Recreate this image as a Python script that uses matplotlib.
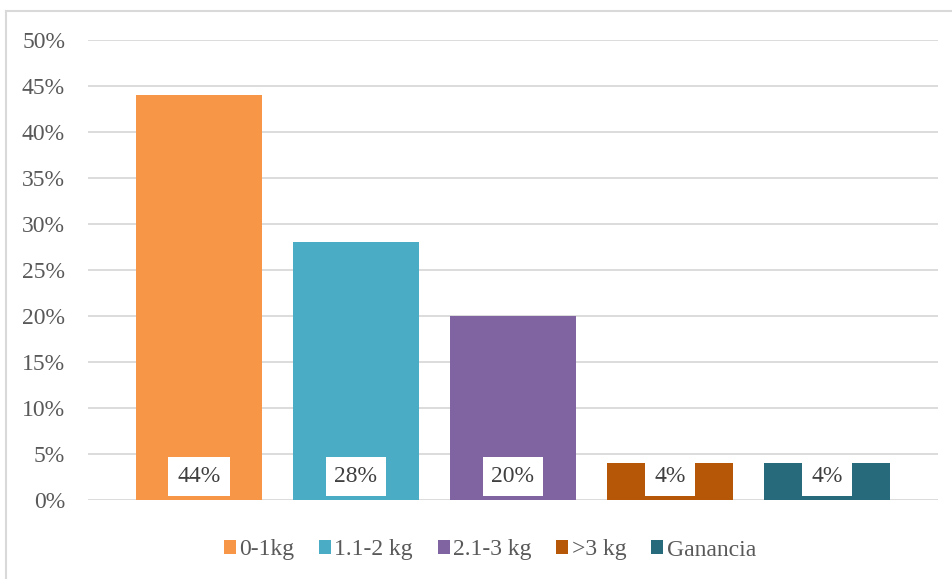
import matplotlib
matplotlib.use("Agg")
import matplotlib.pyplot as plt
from matplotlib.lines import Line2D
from matplotlib.patches import Patch

categories = ["0-1kg", "1.1-2 kg", "2.1-3 kg", ">3 kg", "Ganancia"]
values = [44, 28, 20, 4, 4]
labels = ["44%", "28%", "20%", "4%", "4%"]
colors = ["#F79646", "#4BACC6", "#8064A2", "#B65708", "#276A7C"]
yticks = [0, 5, 10, 15, 20, 25, 30, 35, 40, 45, 50]
ytick_labels = [f"{v}%" for v in yticks]

plt.rcParams['font.family'] = ['Liberation Serif', 'DejaVu Serif']

W, H = 953, 579
fig = plt.figure(figsize=(W / 100, H / 100), dpi=100)
# axes: x 88..938, y 40..500 px
ax = fig.add_axes([88 / W, 1 - 500 / H, (938 - 88) / W, (500 - 40) / H])

for i, (c, v, col) in enumerate(zip(categories, values, colors)):
    ax.bar(i, v, width=0.80, color=col, label=c, zorder=3)

ax.set_xlim(-0.707, 4.707)
ax.set_ylim(0, 50)
ax.set_yticks(yticks)
ax.set_yticklabels(ytick_labels, fontsize=17, color="#595959")
ax.set_xticks([])
ax.tick_params(axis='y', length=0, pad=16.5)
ax.grid(axis='y', color="#D9D9D9", linewidth=1.3, zorder=0)
for s in ax.spines.values():
    s.set_visible(False)

for i, (v, lab) in enumerate(zip(values, labels)):
    ax.text(i, 2.6, lab, ha='center', va='center', fontsize=17, color="#404040",
            zorder=5,
            bbox=dict(boxstyle='square,pad=0.38', facecolor='white', edgecolor='none'))

handles = [Patch(facecolor=c, edgecolor='none') for c in colors]
fig.legend(handles, categories, loc='center', bbox_to_anchor=(0.514, 1 - 550 / H),
           ncol=5, frameon=False, fontsize=17, handlelength=0.5, handleheight=0.5,
           handletextpad=0.15, columnspacing=1.05, labelcolor="#595959")

# outer border (top and left visible)
fig.add_artist(Line2D([6 / W, 1], [1 - 11 / H, 1 - 11 / H], color="#D9D9D9", linewidth=1.5,
                      transform=fig.transFigure))
fig.add_artist(Line2D([6 / W, 6 / W], [0, 1 - 11 / H], color="#D9D9D9", linewidth=1.5,
                      transform=fig.transFigure))

fig.savefig("out.png", dpi=100, facecolor='white')
